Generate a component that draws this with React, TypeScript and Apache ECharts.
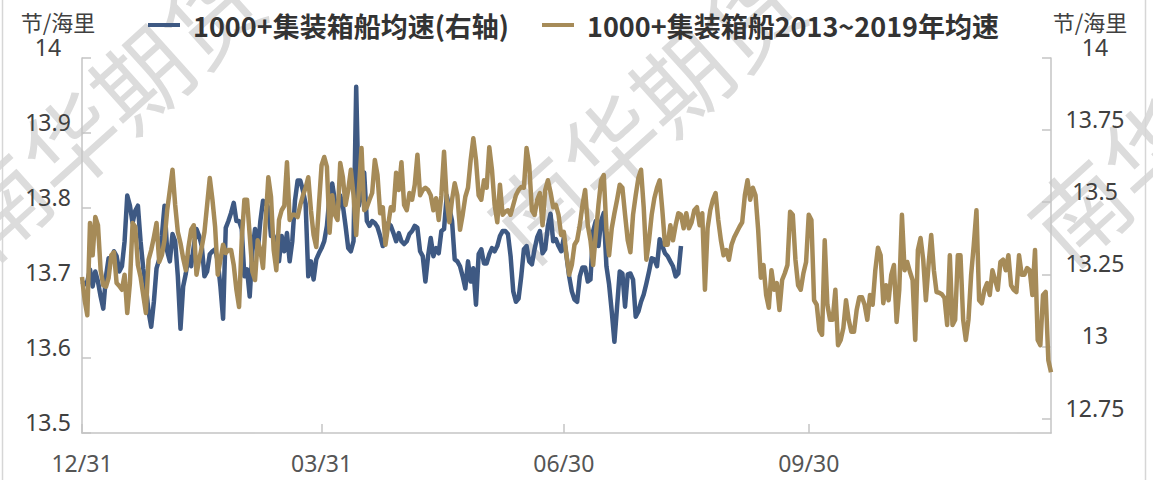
import React, { useEffect, useRef } from "react";
import * as echarts from "echarts";

const startUtc = Date.UTC(2018, 11, 31);
const categories: string[] = Array.from({ length: 365 }, (_, i) => {
  const d = new Date(startUtc + i * 86400000);
  return String(d.getUTCMonth() + 1).padStart(2, "0") + "/" + String(d.getUTCDate()).padStart(2, "0");
});
const tickLabels = ["12/31", "03/31", "06/30", "09/30"];
const rightTickValues = [12.75, 13, 13.25, 13.5, 13.75, 14];
const seriesNames = ["1000+集装箱船均速(右轴)", "1000+集装箱船2013~2019年均速"];
const axisUnit = "节/海里";
const watermarkText = "南华期货";

const speedCurrent = [
  13.225, 13.215, 13.225, 13.267, 13.208, 13.260, 13.225, 13.173, 13.131, 13.243,
  13.306, 13.295, 13.330, 13.313, 13.260, 13.278, 13.365, 13.523, 13.488, 13.428,
  13.470, 13.488, 13.365, 13.271, 13.208, 13.121, 13.068, 13.155, 13.271, 13.302,
  13.383, 13.488, 13.330, 13.295, 13.390, 13.365, 13.243, 13.061, 13.208, 13.253,
  13.313, 13.278, 13.348, 13.407, 13.383, 13.348, 13.243, 13.260, 13.320, 13.330,
  13.337, 13.295, 13.208, 13.096, 13.411, 13.435, 13.463, 13.498, 13.435, 13.435,
  13.407, 13.243, 13.267, 13.173, 13.330, 13.407, 13.330, 13.435, 13.505, 13.498,
  13.481, 13.383, 13.383, 13.295, 13.295, 13.383, 13.330, 13.393, 13.295, 13.365,
  13.505, 13.575, 13.575, 13.540, 13.495, 13.243, 13.295, 13.232, 13.302, 13.323,
  13.341, 13.365, 13.418, 13.523, 13.565, 13.505, 13.463, 13.523, 13.488, 13.418,
  13.341, 13.330, 13.365, 13.900, 13.488, 13.533, 13.603, 13.435, 13.418, 13.435,
  13.428, 13.414, 13.383, 13.348, 13.372, 13.428, 13.418, 13.393, 13.365, 13.393,
  13.365, 13.355, 13.365, 13.390, 13.400, 13.418, 13.411, 13.330, 13.313, 13.225,
  13.313, 13.376, 13.313, 13.341, 13.323, 13.400, 13.407, 13.523, 13.481, 13.435,
  13.302, 13.295, 13.278, 13.243, 13.201, 13.295, 13.225, 13.271, 13.145, 13.320,
  13.337, 13.288, 13.288, 13.320, 13.341, 13.330, 13.348, 13.383, 13.400, 13.400,
  13.390, 13.313, 13.191, 13.155, 13.166, 13.243, 13.337, 13.348, 13.295, 13.285,
  13.337, 13.379, 13.400, 13.323, 13.337, 13.418, 13.460, 13.365, 13.372, 13.348,
  13.330, 13.376, 13.313, 13.243, 13.191, 13.163, 13.155, 13.243, 13.274, 13.274,
  13.225, 13.232, 13.400, 13.435, 13.348, 13.435, 13.463, 13.278, 13.215, 13.121,
  13.016, 13.138, 13.260, 13.253, 13.138, 13.250, 13.253, 13.232, 13.103, 13.121,
  13.155, 13.180, 13.218, 13.260, 13.306, 13.302, 13.278, 13.372, 13.348, 13.323,
  13.313, 13.295, 13.278, 13.243, 13.253, 13.348,
];

const speedAvg = [
  13.708, 13.677, 13.657, 13.780, 13.737, 13.788, 13.777, 13.717, 13.697, 13.695,
  13.707, 13.737, 13.741, 13.700, 13.696, 13.691, 13.711, 13.660, 13.700, 13.780,
  13.775, 13.724, 13.708, 13.684, 13.660, 13.731, 13.744, 13.761, 13.780, 13.728,
  13.737, 13.757, 13.797, 13.824, 13.851, 13.804, 13.768, 13.753, 13.733, 13.717,
  13.748, 13.771, 13.777, 13.711, 13.731, 13.748, 13.768, 13.804, 13.840, 13.811,
  13.775, 13.711, 13.731, 13.751, 13.740, 13.744, 13.744, 13.724, 13.691, 13.668,
  13.757, 13.811, 13.811, 13.764, 13.715, 13.704, 13.757, 13.744, 13.720, 13.784,
  13.841, 13.815, 13.744, 13.717, 13.784, 13.797, 13.803, 13.861, 13.784, 13.791,
  13.791, 13.788, 13.804, 13.817, 13.827, 13.841, 13.797, 13.764, 13.748, 13.804,
  13.857, 13.868, 13.855, 13.767, 13.817, 13.791, 13.784, 13.860, 13.841, 13.804,
  13.824, 13.851, 13.817, 13.764, 13.824, 13.880, 13.797, 13.801, 13.811, 13.820,
  13.864, 13.844, 13.793, 13.801, 13.751, 13.777, 13.801, 13.797, 13.847, 13.824,
  13.861, 13.804, 13.797, 13.820, 13.811, 13.831, 13.871, 13.817, 13.824, 13.827,
  13.824, 13.817, 13.797, 13.813, 13.784, 13.817, 13.875, 13.811, 13.781, 13.811,
  13.833, 13.817, 13.771, 13.791, 13.815, 13.827, 13.864, 13.893, 13.864, 13.817,
  13.811, 13.837, 13.827, 13.881, 13.851, 13.804, 13.781, 13.831, 13.791, 13.795,
  13.797, 13.791, 13.804, 13.817, 13.824, 13.828, 13.827, 13.880, 13.857, 13.797,
  13.791, 13.811, 13.820, 13.777, 13.824, 13.837, 13.821, 13.801, 13.804, 13.791,
  13.764, 13.768, 13.737, 13.711, 13.724, 13.751, 13.757, 13.777, 13.804, 13.824,
  13.777, 13.757, 13.724, 13.764, 13.804, 13.837, 13.844, 13.771, 13.737, 13.773,
  13.793, 13.811, 13.831, 13.827, 13.791, 13.757, 13.741, 13.791, 13.817, 13.840,
  13.851, 13.801, 13.731, 13.757, 13.791, 13.813, 13.827, 13.837, 13.797, 13.751,
  13.751, 13.777, 13.757, 13.777, 13.793, 13.791, 13.773, 13.793, 13.773, 13.781,
  13.797, 13.801, 13.777, 13.793, 13.691, 13.773, 13.797, 13.811, 13.820, 13.784,
  13.757, 13.737, 13.744, 13.731, 13.751, 13.761, 13.768, 13.775, 13.781, 13.817,
  13.837, 13.811, 13.827, 13.817, 13.771, 13.707, 13.724, 13.684, 13.667, 13.717,
  13.691, 13.700, 13.664, 13.704, 13.713, 13.724, 13.795, 13.791, 13.731, 13.697,
  13.691, 13.713, 13.728, 13.791, 13.784, 13.677, 13.671, 13.637, 13.631, 13.757,
  13.671, 13.651, 13.651, 13.691, 13.617, 13.624, 13.640, 13.677, 13.651, 13.635,
  13.635, 13.664, 13.681, 13.681, 13.671, 13.651, 13.684, 13.671, 13.717, 13.747,
  13.737, 13.673, 13.697, 13.677, 13.711, 13.724, 13.648, 13.691, 13.791, 13.717,
  13.728, 13.715, 13.704, 13.624, 13.744, 13.760, 13.731, 13.677, 13.724, 13.764,
  13.717, 13.688, 13.687, 13.685, 13.680, 13.644, 13.737, 13.644, 13.651, 13.737,
  13.737, 13.651, 13.624, 13.651, 13.711, 13.751, 13.797, 13.677, 13.673, 13.691,
  13.700, 13.684, 13.717, 13.704, 13.691, 13.728, 13.731, 13.717, 13.737, 13.697,
  13.691, 13.688, 13.737, 13.711, 13.711, 13.720, 13.717, 13.684, 13.744, 13.624,
  13.617, 13.684, 13.688, 13.597, 13.581,
];

const BLUE = "#3E5983";
const GOLD = "#A68B58";
const AXIS = "#c4c4c4";
const FONT = '"Noto Sans", "Noto Sans CJK SC", sans-serif';
const CJK = '"Noto Sans CJK SC", "Noto Sans", sans-serif';

const showTick = (_i: number, v: string) => tickLabels.includes(v);

export default function App() {
  const ref = useRef<HTMLDivElement>(null);
  useEffect(() => {
    if (!ref.current) return;
    const chart = echarts.init(ref.current, null, { renderer: "svg" });
    const rot = (42 * Math.PI) / 180;
    const wm = (x: number, y: number) => ({
      type: "text",
      x,
      y,
      rotation: rot,
      z: 0,
      silent: true,
      style: {
        text: watermarkText,
        fontSize: 95,
        fontFamily: CJK,
        fill: "#dcdcdc",
        align: "center",
        verticalAlign: "middle",
      },
    });
    const legendText = { fontSize: 27, fontWeight: "bold", color: "#333", fontFamily: CJK, lineHeight: 32, padding: [0, 0, 0, 8] };
    const unitStyle = { text: axisUnit, fontSize: 22, lineHeight: 22, fontFamily: CJK, fill: "#404040", align: "center", verticalAlign: "middle" };
    chart.setOption({
      animation: false,
      backgroundColor: "#ffffff",
      grid: { left: 82, right: 102, top: 58, bottom: 47, containLabel: false },
      legend: [
        { data: [seriesNames[0]], left: 143, top: 4, icon: "rect", itemWidth: 32, itemHeight: 4, textStyle: legendText },
        { data: [seriesNames[1]], left: 537, top: 4, icon: "rect", itemWidth: 32, itemHeight: 4, textStyle: legendText },
      ],
      graphic: [
        wm(103, 107),
        wm(643, 110),
        wm(1183, 113),
        { type: "line", shape: { x1: 2.5, y1: 0, x2: 2.5, y2: 480 }, style: { stroke: "#d6d6d6", lineWidth: 1.5 }, z: 0 },
        { type: "line", shape: { x1: 1145.5, y1: 0, x2: 1145.5, y2: 480 }, style: { stroke: "#d6d6d6", lineWidth: 1.5 }, z: 0 },
        { type: "text", x: 58, y: 21, style: unitStyle },
        { type: "text", x: 1090, y: 21, style: unitStyle },
      ],
      xAxis: {
        type: "category",
        data: categories,
        boundaryGap: false,
        axisLine: { show: true, lineStyle: { color: AXIS, width: 1.5 } },
        axisTick: { show: true, inside: true, length: 9, interval: showTick, lineStyle: { color: AXIS, width: 1.5 } },
        axisLabel: { interval: showTick, margin: 18, fontSize: 23, color: "#555", fontFamily: FONT },
        splitLine: { show: false },
      },
      yAxis: [
        {
          type: "value",
          position: "left",
          min: 13.5,
          max: 14,
          interval: 0.1,
          axisLine: { show: true, lineStyle: { color: AXIS, width: 1.5 } },
          axisTick: { show: true, inside: true, length: 9, lineStyle: { color: AXIS, width: 1.5 } },
          axisLabel: { margin: 34, align: "center", verticalAlign: "bottom", lineHeight: 22, fontSize: 23, color: "#404040", fontFamily: FONT },
          splitLine: { show: false },
        },
        {
          type: "value",
          position: "right",
          min: 12.7,
          max: 14,
          axisLine: { show: true, lineStyle: { color: AXIS, width: 1.5 } },
          axisTick: { show: true, inside: true, length: 9, customValues: rightTickValues, lineStyle: { color: AXIS, width: 1.5 } },
          axisLabel: { customValues: rightTickValues, margin: 44, align: "center", verticalAlign: "bottom", lineHeight: 22, fontSize: 23, color: "#404040", fontFamily: FONT },
          splitLine: { show: false },
        },
      ],
      series: [
        {
          name: seriesNames[0],
          type: "line",
          yAxisIndex: 1,
          data: speedCurrent,
          showSymbol: false,
          symbol: "none",
          color: BLUE,
          lineStyle: { width: 4.5, color: BLUE, join: "round" },
          z: 3,
        },
        {
          name: seriesNames[1],
          type: "line",
          yAxisIndex: 0,
          data: speedAvg,
          showSymbol: false,
          symbol: "none",
          color: GOLD,
          lineStyle: { width: 4.5, color: GOLD, join: "round" },
          z: 4,
        },
      ],
    });
    return () => chart.dispose();
  }, []);
  return <div ref={ref} style={{ position: "absolute", left: 0, top: 0, width: 1153, height: 480 }} />;
}
